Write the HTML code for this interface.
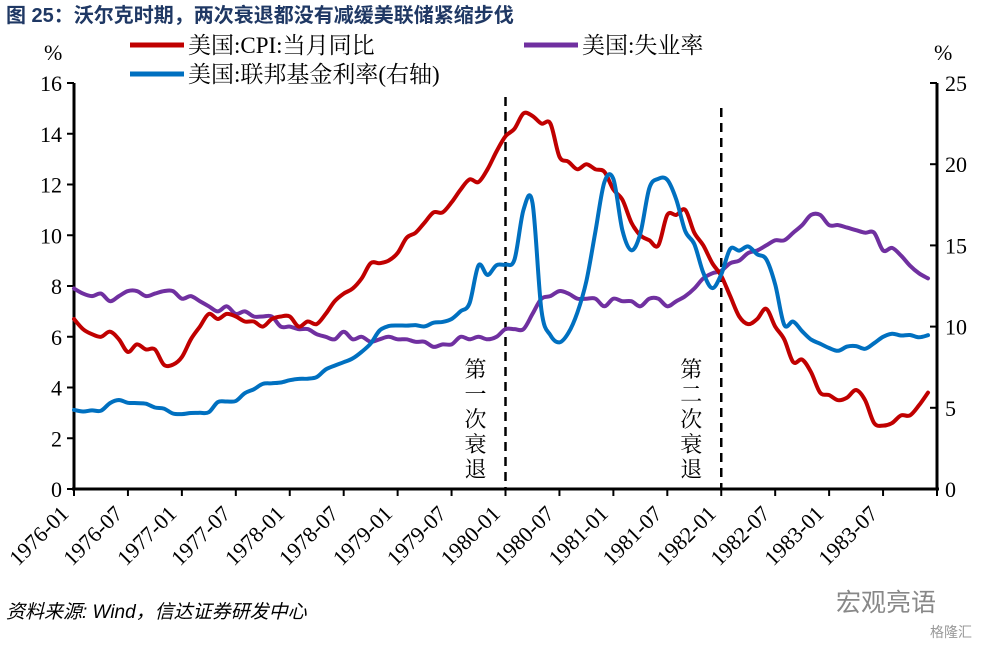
<!DOCTYPE html>
<html><head><meta charset="utf-8"><style>
body{margin:0;background:#fff;width:992px;height:644px;overflow:hidden}
svg text{font-family:"Liberation Serif","Noto Serif CJK SC",serif}
</style></head><body>
<svg id="c" width="992" height="644">
<text x="6" y="22" font-size="20" font-weight="bold" fill="#1f3864" style="font-family:'Liberation Sans','Noto Sans CJK SC',sans-serif">图 25：沃尔克时期，两次衰退都没有减缓美联储紧缩步伐</text>
<g>
<line x1="130" y1="45" x2="184" y2="45" stroke="#C00000" stroke-width="5"/>
<text x="188" y="53" font-size="23">美国:CPI:当月同比</text>
<line x1="524" y1="45" x2="578" y2="45" stroke="#7030A0" stroke-width="5"/>
<text x="582" y="53" font-size="23">美国:失业率</text>
<line x1="130" y1="74" x2="184" y2="74" stroke="#0070C0" stroke-width="5"/>
<text x="188" y="82" font-size="23">美国:联邦基金利率(右轴)</text>
</g>
<text x="44" y="60" font-size="22">%</text>
<text x="934" y="60" font-size="22">%</text>
<text x="6" y="618" font-size="19" font-style="italic" style="font-family:'Liberation Sans','Noto Sans CJK SC',sans-serif">资料来源: Wind，信达证券研发中心</text>
<text x="836" y="611" font-size="25" fill="#888" style="font-family:'Liberation Sans','Noto Sans CJK SC',sans-serif">宏观亮语</text>
<text x="930" y="637" font-size="14" fill="#999" style="font-family:'Liberation Sans','Noto Sans CJK SC',sans-serif">格隆汇</text>
</svg>
<script>
const months=96;
const xLabels=["1976-01","1976-07","1977-01","1977-07","1978-01","1978-07","1979-01","1979-07","1980-01","1980-07","1981-01","1981-07","1982-01","1982-07","1983-01","1983-07"];
const leftTicks=[0,2,4,6,8,10,12,14,16];
const rightTicks=[0,5,10,15,20,25];
const cpi=[6.7,6.3,6.1,6.0,6.2,5.9,5.4,5.7,5.5,5.5,4.9,4.9,
5.2,5.9,6.4,6.9,6.7,6.9,6.8,6.6,6.6,6.4,6.7,6.8,
6.8,6.4,6.6,6.5,6.9,7.4,7.7,7.9,8.3,8.9,8.9,9.0,
9.3,9.9,10.1,10.5,10.9,10.9,11.3,11.8,12.2,12.1,12.6,13.3,
13.9,14.2,14.8,14.7,14.4,14.4,13.1,12.9,12.6,12.8,12.6,12.5,
11.8,11.4,10.5,10.0,9.8,9.6,10.8,10.8,11.0,10.1,9.6,8.9,
8.4,7.6,6.8,6.5,6.7,7.1,6.4,5.9,5.0,5.1,4.6,3.8,
3.7,3.5,3.6,3.9,3.5,2.6,2.5,2.6,2.9,2.9,3.3,3.8];
const unemployment=[7.9,7.7,7.6,7.7,7.4,7.6,7.8,7.8,7.6,7.7,7.8,7.8,
7.5,7.6,7.4,7.2,7.0,7.2,6.9,7.0,6.8,6.8,6.8,6.4,
6.4,6.3,6.3,6.1,6.0,5.9,6.2,5.9,6.0,5.8,5.9,6.0,
5.9,5.9,5.8,5.8,5.6,5.7,5.7,6.0,5.9,6.0,5.9,6.0,
6.3,6.3,6.3,6.9,7.5,7.6,7.8,7.7,7.5,7.5,7.5,7.2,
7.5,7.4,7.4,7.2,7.5,7.5,7.2,7.4,7.6,7.9,8.3,8.5,
8.6,8.9,9.0,9.3,9.4,9.6,9.8,9.8,10.1,10.4,10.8,10.8,
10.4,10.4,10.3,10.2,10.1,10.1,9.4,9.5,9.2,8.8,8.5,8.3];
const fedFunds=[4.87,4.77,4.84,4.82,5.29,5.48,5.31,5.29,5.25,5.02,4.95,4.65,
4.61,4.68,4.69,4.73,5.35,5.39,5.42,5.90,6.14,6.47,6.51,6.56,
6.70,6.78,6.79,6.89,7.36,7.60,7.81,8.04,8.45,8.96,9.76,10.03,
10.07,10.06,10.09,10.01,10.24,10.29,10.47,10.94,11.43,13.77,13.18,13.78,
13.82,14.13,17.19,17.61,10.98,9.47,9.03,9.61,10.87,12.81,15.85,18.90,
19.08,15.93,14.70,15.72,18.52,19.10,19.04,17.82,15.87,15.08,13.31,12.37,
13.22,14.78,14.68,14.94,14.45,14.15,12.59,10.12,10.31,9.71,9.20,8.95,
8.68,8.51,8.77,8.80,8.63,8.98,9.37,9.56,9.45,9.48,9.34,9.47];
const recessions=[{idx:48,label:"第一次衰退"},{idx:72,label:"第二次衰退"}];

const NS="http://www.w3.org/2000/svg",svg=document.getElementById('c');
const X0=74,X1=937,Y0=489,Y1=83;
const xs=i=>X0+i*(X1-X0)/months;
const yl=v=>Y0-v*(Y0-Y1)/16;
const yr=v=>Y0-v*(Y0-Y1)/25;
function mk(t,a){const e=document.createElementNS(NS,t);for(const k in a)e.setAttribute(k,a[k]);svg.appendChild(e);return e;}
let e=mk('line',{x1:X0,y1:Y1,x2:X0,y2:Y0,stroke:'#000','stroke-width':3});


e=mk('line',{x1:X1,y1:Y1,x2:X1,y2:Y0,stroke:'#000','stroke-width':3});


e=mk('line',{x1:X0-2,y1:Y0,x2:X1+2,y2:Y0,stroke:'#000','stroke-width':3});


leftTicks.forEach(v=>{
 const t=mk('line',{x1:X0-7,y1:yl(v),x2:X0,y2:yl(v),stroke:'#000','stroke-width':2});
 
 
 const l=mk('text',{x:X0-12,y:yl(v)+8,'font-size':22,'text-anchor':'end'});l.textContent=v;
 
 
});
rightTicks.forEach(v=>{
 const t=mk('line',{x1:X1-7,y1:yr(v),x2:X1,y2:yr(v),stroke:'#000','stroke-width':2});
 
 
 const l=mk('text',{x:X1+8,y:yr(v)+8,'font-size':22});l.textContent=v;
 
 
});
for(let i=0;i<=months;i+=6){
 const t=mk('line',{x1:xs(i),y1:Y0,x2:xs(i),y2:Y0+7,stroke:'#000','stroke-width':2});
 
 
}
xLabels.forEach((s,k)=>{
 const x=xs(k*6)-4,y=Y0+26;
 const l=mk('text',{x:x,y:y,'font-size':22,'text-anchor':'end',transform:`rotate(-45 ${x} ${y})`});l.textContent=s;
 
 
});
recessions.forEach((r,k)=>{
 const x=xs(r.idx);
 const d=mk('line',{x1:x,y1:k?108:97,x2:x,y2:Y0,stroke:'#000','stroke-width':2.5,'stroke-dasharray':'9,6'});
 
 
 [...r.label].forEach((ch,j)=>{
  const t=mk('text',{x:x-30,y:377+j*25,'font-size':22,'text-anchor':'middle'});t.textContent=ch;
  
  
 });
});
function series(arr,yf,color,name){
 const pts=arr.map((v,i)=>[xs(i),yf(v)]);
 let d='M'+pts[0][0].toFixed(1)+','+pts[0][1].toFixed(1);
 for(let i=0;i<pts.length-1;i++){
  const p0=pts[i-1]||pts[i],p1=pts[i],p2=pts[i+1],p3=pts[i+2]||p2;
  const c1=[p1[0]+(p2[0]-p0[0])/6,p1[1]+(p2[1]-p0[1])/6],c2=[p2[0]-(p3[0]-p1[0])/6,p2[1]-(p3[1]-p1[1])/6];
  d+='C'+c1.map(n=>n.toFixed(1)).join(',')+' '+c2.map(n=>n.toFixed(1)).join(',')+' '+p2.map(n=>n.toFixed(1)).join(',');
 }
 const p=mk('path',{d:d,fill:'none',stroke:color,'stroke-width':4,'stroke-linejoin':'round','stroke-linecap':'round'});
 
 
}
series(unemployment,yl,'#7030A0','unemployment-line');
series(cpi,yl,'#C00000','cpi-line');
series(fedFunds,yr,'#0070C0','fed-funds-line');
</script>
</body></html>
